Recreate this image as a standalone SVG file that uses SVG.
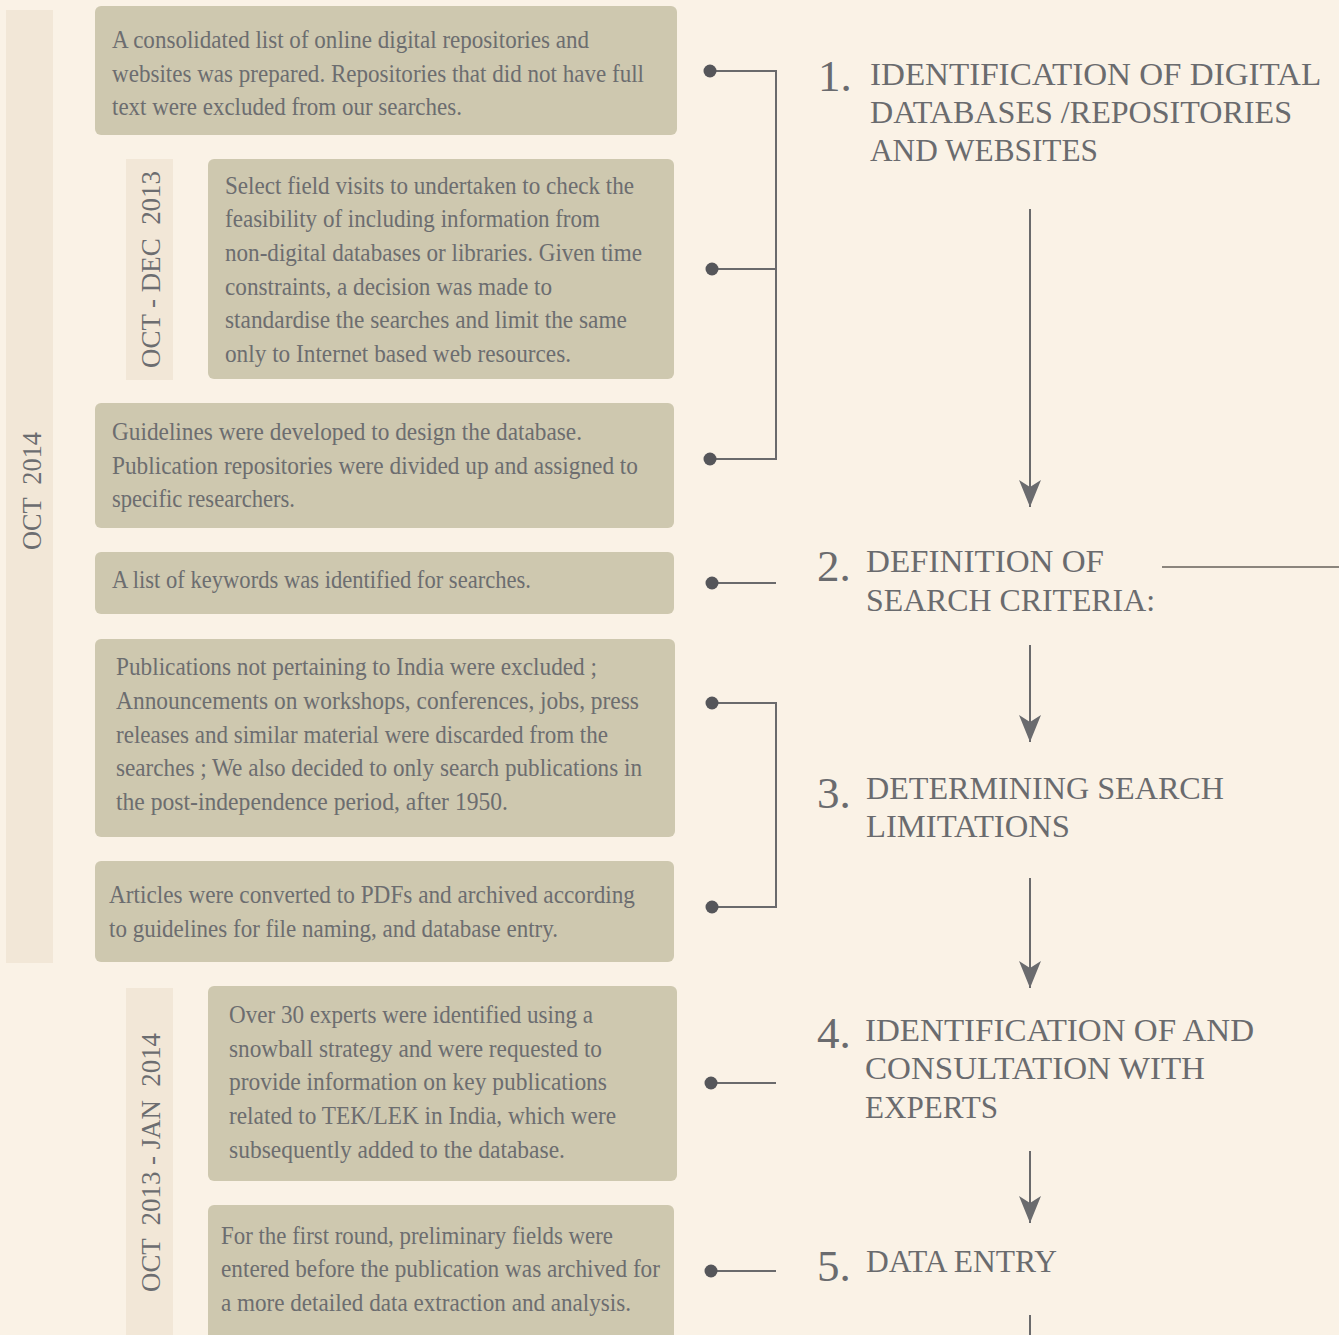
<svg xmlns="http://www.w3.org/2000/svg" width="1339" height="1335" viewBox="0 0 1339 1335">
<style>
.bg{fill:#FAF2E6}
.bar{fill:#F2E7D7}
.box{fill:#CEC8AF}
.body{font-family:"Liberation Serif","DejaVu Serif",serif;font-size:24.5px;fill:#6C6D6F}
.rot{font-family:"Liberation Serif","DejaVu Serif",serif;font-size:28px;fill:#6C6D70;white-space:pre}
.head{font-family:"Liberation Serif","DejaVu Serif",serif;font-size:31px;fill:#6A6B6E}
.num{font-family:"Liberation Serif","DejaVu Serif",serif;font-size:45px;fill:#6A6B6E}
.ln{stroke:#6A6A6C;stroke-width:2;fill:none}
.dot{fill:#55565A}
</style>
<defs>
<marker id="ah" viewBox="0 -11 27 22" refX="27" refY="0" markerWidth="27" markerHeight="22" markerUnits="userSpaceOnUse" orient="auto">
<path d="M0,-11 L27,0 L0,11 L7,0 Z" fill="#6A6B6E"/>
</marker>
</defs>
<rect class="bg" x="0" y="0" width="1339" height="1335"/>

<g id="timeline-oct2014">
<rect class="bar" x="6" y="10" width="47" height="953"/>
<text class="rot" transform="translate(41,550) rotate(-90)" textLength="118" lengthAdjust="spacingAndGlyphs">OCT  2014</text>
</g>
<g id="timeline-octdec2013">
<rect class="bar" x="126" y="159" width="47" height="221"/>
<text class="rot" transform="translate(160,368) rotate(-90)" textLength="197" lengthAdjust="spacingAndGlyphs">OCT - DEC  2013</text>
</g>
<g id="timeline-oct2013jan2014">
<rect class="bar" x="126" y="988" width="47" height="360"/>
<text class="rot" transform="translate(160,1292) rotate(-90)" textLength="259" lengthAdjust="spacingAndGlyphs">OCT  2013 - JAN  2014</text>
</g>

<g id="box1">
<rect class="box" x="95" y="6" width="582" height="129" rx="6"/>
<text class="body">
<tspan x="112" y="48" textLength="477" lengthAdjust="spacingAndGlyphs">A consolidated list of online digital repositories and</tspan>
<tspan x="112" y="82" textLength="532" lengthAdjust="spacingAndGlyphs">websites was prepared. Repositories that did not have full</tspan>
<tspan x="112" y="115" textLength="350" lengthAdjust="spacingAndGlyphs">text were excluded from our searches.</tspan>
</text>
</g>
<g id="box2">
<rect class="box" x="208" y="159" width="466" height="220" rx="6"/>
<text class="body">
<tspan x="225" y="194" textLength="409" lengthAdjust="spacingAndGlyphs">Select field visits to undertaken to check the</tspan>
<tspan x="225" y="227" textLength="375" lengthAdjust="spacingAndGlyphs">feasibility of including information from</tspan>
<tspan x="225" y="261" textLength="417" lengthAdjust="spacingAndGlyphs">non-digital databases or libraries. Given time</tspan>
<tspan x="225" y="295" textLength="327" lengthAdjust="spacingAndGlyphs">constraints, a decision was made to</tspan>
<tspan x="225" y="328" textLength="402" lengthAdjust="spacingAndGlyphs">standardise the searches and limit the same</tspan>
<tspan x="225" y="362" textLength="346" lengthAdjust="spacingAndGlyphs">only to Internet based web resources.</tspan>
</text>
</g>
<g id="box3">
<rect class="box" x="95" y="403" width="579" height="125" rx="6"/>
<text class="body">
<tspan x="112" y="440" textLength="470" lengthAdjust="spacingAndGlyphs">Guidelines were developed to design the database.</tspan>
<tspan x="112" y="474" textLength="526" lengthAdjust="spacingAndGlyphs">Publication repositories were divided up and assigned to</tspan>
<tspan x="112" y="507" textLength="183" lengthAdjust="spacingAndGlyphs">specific researchers.</tspan>
</text>
</g>
<g id="box4">
<rect class="box" x="95" y="552" width="579" height="62" rx="6"/>
<text class="body">
<tspan x="112" y="588" textLength="419" lengthAdjust="spacingAndGlyphs">A list of keywords was identified for searches.</tspan>
</text>
</g>
<g id="box5">
<rect class="box" x="95" y="639" width="580" height="198" rx="6"/>
<text class="body">
<tspan x="116" y="675" textLength="481" lengthAdjust="spacingAndGlyphs">Publications not pertaining to India were excluded ;</tspan>
<tspan x="116" y="709" textLength="523" lengthAdjust="spacingAndGlyphs">Announcements on workshops, conferences, jobs, press</tspan>
<tspan x="116" y="743" textLength="492" lengthAdjust="spacingAndGlyphs">releases and similar material were discarded from the</tspan>
<tspan x="116" y="776" textLength="526" lengthAdjust="spacingAndGlyphs">searches ; We also decided to only search publications in</tspan>
<tspan x="116" y="810" textLength="392" lengthAdjust="spacingAndGlyphs">the post-independence period, after 1950.</tspan>
</text>
</g>
<g id="box6">
<rect class="box" x="95" y="861" width="579" height="101" rx="6"/>
<text class="body">
<tspan x="109" y="903" textLength="526" lengthAdjust="spacingAndGlyphs">Articles were converted to PDFs and archived according</tspan>
<tspan x="109" y="937" textLength="449" lengthAdjust="spacingAndGlyphs">to guidelines for file naming, and database entry.</tspan>
</text>
</g>
<g id="box7">
<rect class="box" x="208" y="986" width="469" height="195" rx="6"/>
<text class="body">
<tspan x="229" y="1023" textLength="364" lengthAdjust="spacingAndGlyphs">Over 30 experts were identified using a</tspan>
<tspan x="229" y="1057" textLength="373" lengthAdjust="spacingAndGlyphs">snowball strategy and were requested to</tspan>
<tspan x="229" y="1090" textLength="378" lengthAdjust="spacingAndGlyphs">provide information on key publications</tspan>
<tspan x="229" y="1124" textLength="387" lengthAdjust="spacingAndGlyphs">related to TEK/LEK in India, which were</tspan>
<tspan x="229" y="1158" textLength="336" lengthAdjust="spacingAndGlyphs">subsequently added to the database.</tspan>
</text>
</g>
<g id="box8">
<rect class="box" x="208" y="1205" width="466" height="150" rx="6"/>
<text class="body">
<tspan x="221" y="1244" textLength="392" lengthAdjust="spacingAndGlyphs">For the first round, preliminary fields were</tspan>
<tspan x="221" y="1277" textLength="439" lengthAdjust="spacingAndGlyphs">entered before the publication was archived for</tspan>
<tspan x="221" y="1311" textLength="410" lengthAdjust="spacingAndGlyphs">a more detailed data extraction and analysis.</tspan>
</text>
</g>

<g id="step1">
<text class="num" x="818" y="91">1.</text>
<text class="head">
<tspan x="870" y="85" textLength="450" lengthAdjust="spacingAndGlyphs">IDENTIFICATION OF DIGITAL</tspan>
<tspan x="870" y="123" textLength="422" lengthAdjust="spacingAndGlyphs">DATABASES /REPOSITORIES</tspan>
<tspan x="870" y="161" textLength="228" lengthAdjust="spacingAndGlyphs">AND WEBSITES</tspan>
</text>
</g>
<g id="step2">
<text class="num" x="817" y="581">2.</text>
<text class="head">
<tspan x="866" y="572" textLength="238" lengthAdjust="spacingAndGlyphs">DEFINITION OF</tspan>
<tspan x="866" y="611" textLength="289" lengthAdjust="spacingAndGlyphs">SEARCH CRITERIA:</tspan>
</text>
</g>
<g id="step3">
<text class="num" x="817" y="808">3.</text>
<text class="head">
<tspan x="866" y="799" textLength="358" lengthAdjust="spacingAndGlyphs">DETERMINING SEARCH</tspan>
<tspan x="866" y="837" textLength="204" lengthAdjust="spacingAndGlyphs">LIMITATIONS</tspan>
</text>
</g>
<g id="step4">
<text class="num" x="817" y="1048">4.</text>
<text class="head">
<tspan x="865" y="1041" textLength="389" lengthAdjust="spacingAndGlyphs">IDENTIFICATION OF AND</tspan>
<tspan x="865" y="1079" textLength="340" lengthAdjust="spacingAndGlyphs">CONSULTATION WITH</tspan>
<tspan x="865" y="1118" textLength="133" lengthAdjust="spacingAndGlyphs">EXPERTS</tspan>
</text>
</g>
<g id="step5">
<text class="num" x="817" y="1281">5.</text>
<text class="head">
<tspan x="866" y="1272" textLength="191" lengthAdjust="spacingAndGlyphs">DATA ENTRY</tspan>
</text>
</g>

<g id="connectors">
<path class="ln" d="M710,71 H776 V459 H710 M710,269 H776"/>
<path class="ln" d="M712,583 H776"/>
<path class="ln" d="M712,703 H776 V907 H712"/>
<path class="ln" d="M711,1083 H776"/>
<path class="ln" d="M711,1271 H776"/>
<circle class="dot" cx="710" cy="71" r="6.5"/>
<circle class="dot" cx="712" cy="269" r="6.5"/>
<circle class="dot" cx="710" cy="459" r="6.5"/>
<circle class="dot" cx="712" cy="583" r="6.5"/>
<circle class="dot" cx="712" cy="703" r="6.5"/>
<circle class="dot" cx="712" cy="907" r="6.5"/>
<circle class="dot" cx="711" cy="1083" r="6.5"/>
<circle class="dot" cx="711" cy="1271" r="6.5"/>
<line class="ln" x1="1030" y1="209" x2="1030" y2="507" marker-end="url(#ah)"/>
<line class="ln" x1="1030" y1="645" x2="1030" y2="742" marker-end="url(#ah)"/>
<line class="ln" x1="1030" y1="878" x2="1030" y2="988" marker-end="url(#ah)"/>
<line class="ln" x1="1030" y1="1151" x2="1030" y2="1223" marker-end="url(#ah)"/>
<line class="ln" x1="1030" y1="1315" x2="1030" y2="1340"/>
<line x1="1162" y1="567" x2="1339" y2="567" stroke="#8B857D" stroke-width="2"/>
</g>
</svg>
